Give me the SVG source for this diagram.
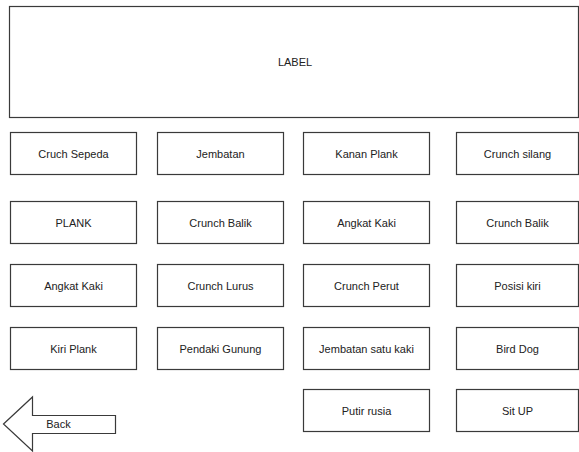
<svg xmlns="http://www.w3.org/2000/svg" width="579" height="452" viewBox="0 0 579 452">
<style>
.b{fill:#fff;stroke:#3a3a3a;stroke-width:1.2}
.t{font-family:"Liberation Sans",Arial,sans-serif;font-size:11px;fill:#222;text-anchor:middle;dominant-baseline:central}
</style>
<rect width="579" height="452" fill="#fff"/>
<g id="label"><rect class="b" x="9.5" y="6.5" width="569" height="111"/><text class="t" x="295" y="61.5">LABEL</text></g>
<g id="n1"><rect class="b" x="10.5" y="132.5" width="126" height="42"/><text class="t" x="73.5" y="153.5">Cruch Sepeda</text></g>
<g id="n2"><rect class="b" x="157.5" y="132.5" width="126" height="42"/><text class="t" x="220.5" y="153.5">Jembatan</text></g>
<g id="n3"><rect class="b" x="303.5" y="132.5" width="126" height="42"/><text class="t" x="366.5" y="153.5">Kanan Plank</text></g>
<g id="n4"><rect class="b" x="456.5" y="132.5" width="122" height="42"/><text class="t" x="517.5" y="153.5">Crunch silang</text></g>
<g id="n5"><rect class="b" x="10.5" y="201.5" width="126" height="42"/><text class="t" x="73.5" y="222.5">PLANK</text></g>
<g id="n6"><rect class="b" x="157.5" y="201.5" width="126" height="42"/><text class="t" x="220.5" y="222.5">Crunch Balik</text></g>
<g id="n7"><rect class="b" x="303.5" y="201.5" width="126" height="42"/><text class="t" x="366.5" y="222.5">Angkat Kaki</text></g>
<g id="n8"><rect class="b" x="456.5" y="201.5" width="122" height="42"/><text class="t" x="517.5" y="222.5">Crunch Balik</text></g>
<g id="n9"><rect class="b" x="10.5" y="264.5" width="126" height="42"/><text class="t" x="73.5" y="285.5">Angkat Kaki</text></g>
<g id="n10"><rect class="b" x="157.5" y="264.5" width="126" height="42"/><text class="t" x="220.5" y="285.5">Crunch Lurus</text></g>
<g id="n11"><rect class="b" x="303.5" y="264.5" width="126" height="42"/><text class="t" x="366.5" y="285.5">Crunch Perut</text></g>
<g id="n12"><rect class="b" x="456.5" y="264.5" width="122" height="42"/><text class="t" x="517.5" y="285.5">Posisi kiri</text></g>
<g id="n13"><rect class="b" x="10.5" y="327.5" width="126" height="42"/><text class="t" x="73.5" y="348.5">Kiri Plank</text></g>
<g id="n14"><rect class="b" x="157.5" y="327.5" width="126" height="42"/><text class="t" x="220.5" y="348.5">Pendaki Gunung</text></g>
<g id="n15"><rect class="b" x="303.5" y="327.5" width="126" height="42"/><text class="t" x="366.5" y="348.5">Jembatan satu kaki</text></g>
<g id="n16"><rect class="b" x="456.5" y="327.5" width="122" height="42"/><text class="t" x="517.5" y="348.5">Bird Dog</text></g>
<g id="n17"><rect class="b" x="303.5" y="389.5" width="126" height="42"/><text class="t" x="366.5" y="410.5">Putir rusia</text></g>
<g id="n18"><rect class="b" x="456.5" y="389.5" width="122" height="42"/><text class="t" x="517.5" y="410.5">Sit UP</text></g>
<g id="back"><polygon class="b" points="3.5,424 32.5,397 32.5,415.5 115.5,415.5 115.5,433.5 32.5,433.5 32.5,451"/><text class="t" x="58.5" y="423.5">Back</text></g>
<g id="connectors"></g>
</svg>
